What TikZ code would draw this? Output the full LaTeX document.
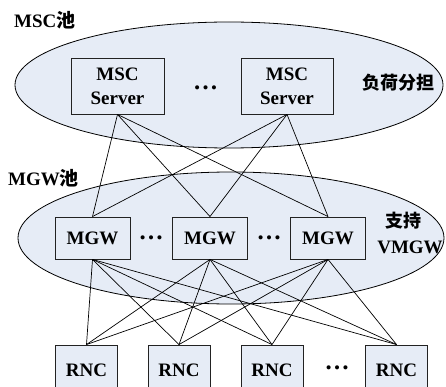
\documentclass[tikz,border=0pt]{standalone}
\usepackage{fontspec}
\setmainfont{Liberation Serif}
\newfontfamily\cjk{Noto Sans CJK SC}
\newcommand{\bigbf}{\fontsize{19}{24}\selectfont\bfseries}
\definecolor{poolbg}{HTML}{E6ECF6}
\definecolor{frame}{HTML}{222222}
\tikzset{
  pool/.style={draw=black, fill=poolbg, line width=0.8pt},
  box/.style={draw=frame, fill=poolbg, line width=0.9pt, font=\bigbf, align=center, inner sep=0pt},
  link/.style={draw=black, line width=0.7pt},
  lab/.style={font=\bigbf, inner sep=0pt},
  cjklab/.style={font=\fontsize{18}{22}\selectfont\cjk\bfseries, inner sep=0pt},
  dots/.style={font=\fontsize{25}{25}\selectfont\bfseries, inner sep=0pt}
}
\begin{document}
\begin{tikzpicture}[x=1pt, y=-1pt]
  \clip (0,0) rectangle (446,387);
  % pools
  \draw[pool] (229,85) ellipse (214 and 63);
  \draw[pool] (231,238) ellipse (213 and 66);
  \node[lab, anchor=west] (mscpool) at (14,20) {MSC{\cjk 池}};
  \node[lab, anchor=west] (mgwpool) at (8,178) {MGW{\cjk 池}};
  % MSC servers
  \node[box, minimum width=93, minimum height=56] (msc1) at (117.5,86) {MSC\\Server};
  \node[box, minimum width=92, minimum height=56] (msc2) at (287,86) {MSC\\Server};
  \node[dots] (mscdots) at (205.5,88) {…};
  \node[cjklab] (share) at (398,83) {负荷分担};
  % MGWs
  \foreach \i/\x in {1/92.5,2/210,3/328}{
    \node[box, minimum width=75, minimum height=42] (mgw\i) at (\x,238) {MGW};
  }
  \node[dots] (mgwdots1) at (151,238) {…};
  \node[dots] (mgwdots2) at (269,238) {…};
  \node[cjklab] (vmgw1) at (403,221) {支持};
  \node[lab] (vmgw2) at (410,247) {VMGW};
  % RNCs
  \foreach \i/\x in {1/86.5,2/179,3/272,4/396.5}{
    \node[box, minimum width=62, minimum height=50] (rnc\i) at (\x,370) {RNC};
  }
  \node[dots] (rncdots) at (337,368) {…};
  % links
  \foreach \s in {msc1,msc2}{
    \foreach \g in {mgw1,mgw2,mgw3}{
      \draw[link] (\s.south) -- (\g.north);
    }
  }
  \foreach \g in {mgw1,mgw2,mgw3}{
    \foreach \r in {rnc1,rnc2,rnc3,rnc4}{
      \draw[link] (\g.south) -- (\r.north);
    }
  }
\end{tikzpicture}
\end{document}
